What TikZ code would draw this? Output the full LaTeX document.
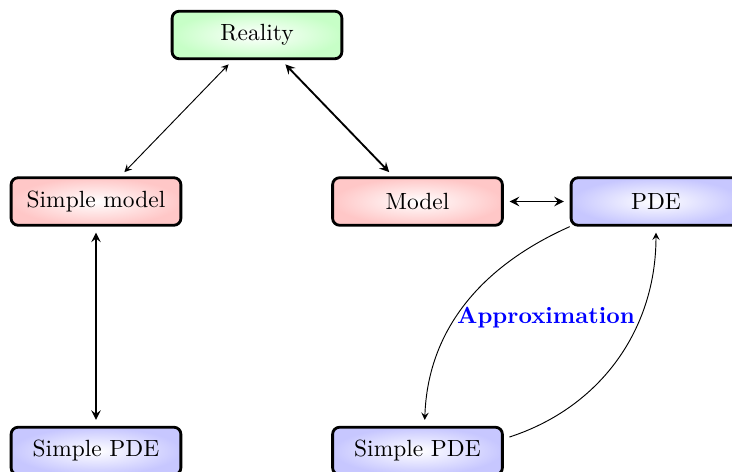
\documentclass[tikz,border=0pt]{standalone}
\usepackage{amsmath}
\usepackage{tikz}
\usetikzlibrary{arrows, calc}

\begin{document}
\begin{tikzpicture}[x=0.427pt, y=0.427pt, >=stealth,
  box/.style={draw, very thick, rounded corners=3pt, minimum width=72.5pt, minimum height=20.3pt},
  greenbox/.style={box, inner color=white, outer color=green!22},
  redbox/.style={box, inner color=white, outer color=red!22},
  bluebox/.style={box, inner color=white, outer color=blue!22},
  gap/.style={shorten <=2.5pt, shorten >=2.5pt}]
\useasboundingbox (0,0) rectangle (732,472);

% Top level
\node[greenbox] (reality) at (257,437) {Reality};

% Models
\node[redbox] (smodel) at (96,270.5) {Simple model};
\node[redbox] (model) at (417.5,270.5) {Model};
\node[bluebox] (pde) at (656,270.5) {PDE};

% Equations
\node[bluebox] (spdeL) at (96,21) {Simple PDE};
\node[bluebox] (spdeR) at (417.5,21) {Simple PDE};

% Links
\draw[<->, gap] (reality) -- (smodel);
\draw[<->, gap, thick] (reality) -- (model);
\draw[<->, gap, thick] (smodel) -- (spdeL);
\draw[<->, gap, thick] (model) -- (pde);

% Approximation loop
\draw[->, shorten >=2.5pt] (pde.south west) to[out=204, in=88] ([xshift=3pt]spdeR.north);
\draw[->, shorten <=2.5pt, shorten >=2.5pt] (spdeR.8) to[out=18, in=-90] (pde.south);
\node[text=blue, font=\bfseries] (approx) at (546,154) {Approximation};
\end{tikzpicture}
\end{document}
